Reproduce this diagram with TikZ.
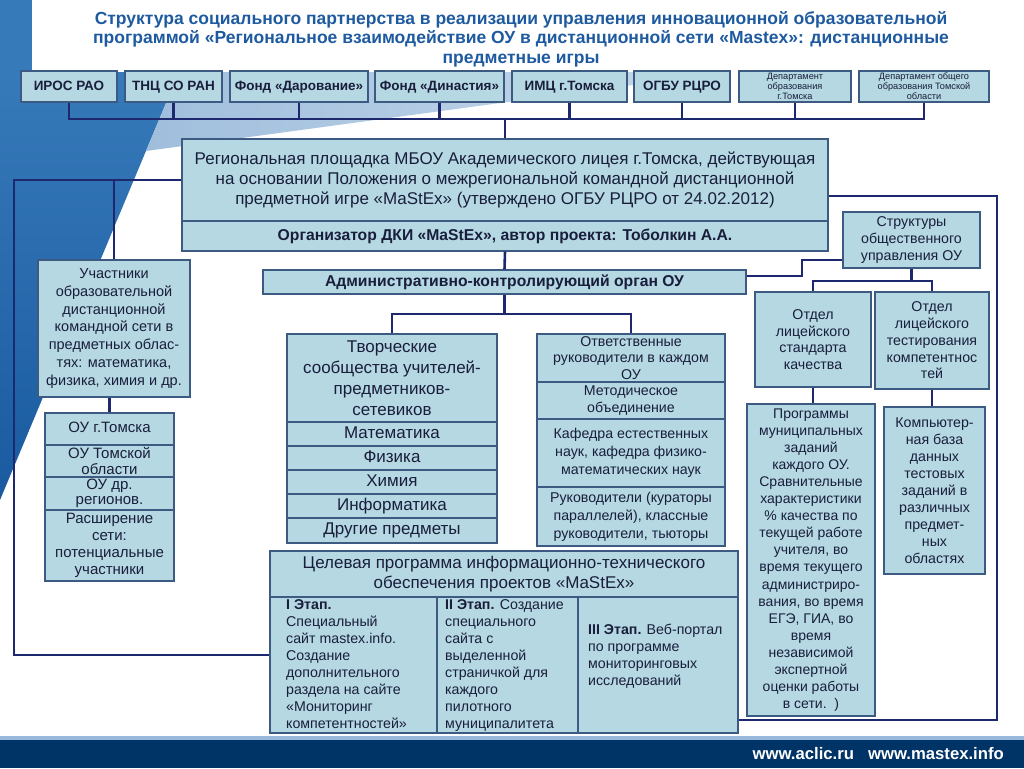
\documentclass[tikz,border=0pt]{standalone}
\usepackage{fontspec}
\setmainfont{Liberation Sans}
\definecolor{boxfill}{RGB}{181,216,226}
\definecolor{boxline}{RGB}{60,90,130}
\definecolor{connc}{RGB}{30,40,110}
\definecolor{txt}{RGB}{25,30,60}
\definecolor{titlec}{RGB}{30,90,160}
\definecolor{blueA}{RGB}{55,122,185}
\definecolor{blueB}{RGB}{25,90,160}
\definecolor{lightw}{RGB}{160,190,220}
\definecolor{lightx}{RGB}{200,218,236}
\definecolor{navy}{RGB}{0,51,102}
\definecolor{navyl}{RGB}{150,185,220}
\tikzset{
  box/.style={draw=boxline, fill=boxfill, line width=1.1pt, inner sep=1pt, align=center, text=txt,
    font=\fontsize{14.2}{17}\selectfont},
  topbox/.style={box, font=\bfseries\fontsize{13.5}{16}\selectfont, text height=10pt, text depth=3pt},
  depbox/.style={box, font=\fontsize{9.2}{10}\selectfont},
  rowbox/.style={box, minimum width=210pt, minimum height=24pt, font=\fontsize{17}{19}\selectfont,
    text height=12.5pt, text depth=4pt},
  conn/.style={draw=connc, line width=2.6pt},
  colbox/.style={box, align=left},
  coltext/.style={align=left, text=txt, inner sep=0pt, font=\fontsize{14.2}{17.1}\selectfont},
}
\begin{document}
\begin{tikzpicture}[x=1pt,y=-1pt]
\useasboundingbox (0,0) rectangle (1024,768);
\fill[white] (0,0) rectangle (1024,768);
% background decoration
\fill[blueA] (0,0) rectangle (32,72);
\shade[top color=blueA, bottom color=blueB] (0,72) -- (179,72) -- (0,500) -- cycle;
\shade[left color=lightw, right color=lightx] (179,72) -- (729,72) -- (146,151) -- cycle;
% bottom bar
\fill[navyl] (0,736) rectangle (1024,740);
\fill[navy] (0,740) rectangle (1024,768);
\node[anchor=east, text=white, font=\bfseries\fontsize{16.7}{18}\selectfont, inner sep=0pt] (web) at (1004,754) {www.aclic.ru\hspace{14pt}www.mastex.info};
% title
\node[align=center, text=titlec, font=\bfseries\fontsize{17.5}{19.5}\selectfont, inner sep=0pt] (ttl) at (521,39)
 {Структура социального партнерства в реализации управления инновационной образовательной\\
  программой «Региональное взаимодействие ОУ в дистанционной сети «Mastex»: дистанционные\\
  предметные игры};
% top row
\node[topbox, minimum width=96pt, minimum height=31pt] (iros) at (69,86.5) {ИРОС РАО};
\node[topbox, minimum width=97pt, minimum height=31pt] (tnc) at (173.5,86.5) {ТНЦ СО РАН};
\node[topbox, minimum width=138pt, minimum height=31pt] (dar) at (299,86.5) {Фонд «Дарование»};
\node[topbox, minimum width=129pt, minimum height=31pt] (din) at (439.5,86.5) {Фонд «Династия»};
\node[topbox, minimum width=115pt, minimum height=31pt] (imc) at (569.5,86.5) {ИМЦ г.Томска};
\node[topbox, minimum width=96pt, minimum height=31pt] (ogbu) at (682,86.5) {ОГБУ РЦРО};
\node[depbox, minimum width=112pt, minimum height=31pt] (dep1) at (795,86.5) {Департамент\\образования\\г.Томска};
\node[depbox, minimum width=130pt, minimum height=31pt] (dep2) at (924,86.5) {Департамент общего\\образования Томской\\области};
% main box
\node[box, minimum width=646pt, minimum height=82pt, font=\fontsize{17}{20}\selectfont] (main) at (505,180)
 {Региональная площадка МБОУ Академического лицея г.Томска, действующая\\
  на основании Положения о межрегиональной командной дистанционной\\
  предметной игре «MaStEx» (утверждено ОГБУ РЦРО от 24.02.2012)};
\node[box, minimum width=646pt, minimum height=30pt, font=\bfseries\fontsize{15.7}{17}\selectfont,
  text height=11.5pt, text depth=3.5pt] (org) at (505,236)
 {Организатор ДКИ «MaStEx», автор проекта: Тоболкин А.А.};
\node[box, minimum width=483pt, minimum height=24pt, font=\bfseries\fontsize{15.7}{17}\selectfont,
  text height=11.5pt, text depth=3.5pt] (admin) at (504.5,282)
 {Административно-контролирующий орган ОУ};
% right column
\node[box, minimum width=137pt, minimum height=56pt] (str) at (911.5,240) {Структуры\\общественного\\управления ОУ};
\node[box, minimum width=116pt, minimum height=95pt, font=\fontsize{14.2}{16.7}\selectfont] (od1) at (813,339.5) {Отдел\\лицейского\\стандарта\\качества};
\node[box, minimum width=114pt, minimum height=97pt, font=\fontsize{14.2}{16.7}\selectfont] (od2) at (932,340.5) {Отдел\\лицейского\\тестирования\\компетентнос\\тей};
\node[box, minimum width=128pt, minimum height=312pt, font=\fontsize{14}{17.1}\selectfont] (prog) at (811,560)
 {Программы\\муниципальных\\заданий\\каждого ОУ.\\Сравнительные\\характеристики\\\% качества по\\текущей работе\\учителя, во\\время текущего\\администриро-\\вания, во время\\ЕГЭ, ГИА, во\\время\\независимой\\экспертной\\оценки работы\\в сети.\ \ )};
\node[box, minimum width=101pt, minimum height=167pt, font=\fontsize{14.2}{17}\selectfont] (comp) at (934.5,490.5)
 {Компьютер-\\ная база\\данных\\тестовых\\заданий в\\различных\\предмет-\\ных\\областях};
% left column
\node[box, minimum width=152pt, minimum height=137pt, font=\fontsize{14.5}{17.7}\selectfont] (uch) at (114,328.5)
 {Участники\\образовательной\\дистанционной\\командной сети в\\предметных облас-\\тях: математика,\\физика, химия и др.};
\node[box, minimum width=129pt, minimum height=32pt, font=\fontsize{15}{16}\selectfont,
  text height=11pt, text depth=3.5pt] (ou1) at (109.5,429) {ОУ г.Томска};
\node[box, minimum width=129pt, minimum height=32pt, font=\fontsize{15}{15.5}\selectfont] (ou2) at (109.5,461) {ОУ Томской\\области};
\node[box, minimum width=129pt, minimum height=33pt, font=\fontsize{15}{15.5}\selectfont] (ou3) at (109.5,493.5) {ОУ др.\\регионов.};
\node[box, minimum width=129pt, minimum height=71pt, font=\fontsize{15}{17}\selectfont] (ou4) at (109.5,545.5) {Расширение\\сети:\\потенциальные\\участники};
% creative communities
\node[box, minimum width=210pt, minimum height=88pt, font=\fontsize{17}{21}\selectfont] (tv) at (392,378)
 {Творческие\\сообщества учителей-\\предметников-\\сетевиков};
\node[rowbox] (tv1) at (392,434) {Математика};
\node[rowbox] (tv2) at (392,458) {Физика};
\node[rowbox] (tv3) at (392,482) {Химия};
\node[rowbox] (tv4) at (392,506) {Информатика};
\node[rowbox, minimum height=25pt] (tv5) at (392,530.5) {Другие предметы};
% responsible
\node[box, minimum width=188pt, minimum height=48pt, font=\fontsize{14.2}{16.5}\selectfont] (ot1) at (631,358) {Ответственные\\руководители в каждом\\ОУ};
\node[box, minimum width=188pt, minimum height=37pt, font=\fontsize{14.2}{16.5}\selectfont] (ot2) at (631,400.5) {Методическое\\объединение};
\node[box, minimum width=188pt, minimum height=68pt, font=\fontsize{14.2}{18}\selectfont] (ot3) at (631,453) {Кафедра естественных\\наук, кафедра физико-\\математических наук};
\node[box, minimum width=188pt, minimum height=59pt, font=\fontsize{14.2}{18}\selectfont] (ot4) at (631,516.5) {Руководители (кураторы\\параллелей), классные\\руководители, тьюторы};
% target programme
\node[box, minimum width=468pt, minimum height=46pt, font=\fontsize{17}{20}\selectfont] (tsel) at (504,574)
 {Целевая программа информационно-технического\\обеспечения проектов «MaStEx»};
\node[colbox, minimum width=167pt, minimum height=136pt] (c1) at (353.5,665) {};
\node[colbox, minimum width=141pt, minimum height=136pt] (c2) at (507.5,665) {};
\node[colbox, minimum width=160pt, minimum height=136pt] (c3) at (658,665) {};
\node[coltext, anchor=north west] (c1t) at (286,599)
 {\textbf{I Этап.}\\Специальный\\сайт mastex.info.\\Создание\\дополнительного\\раздела на сайте\\«Мониторинг\\компетентностей»};
\node[coltext, anchor=north west] (c2t) at (445,599)
 {\textbf{II Этап.} Создание\\специального\\сайта с\\выделенной\\страничкой для\\каждого\\пилотного\\муниципалитета};
\node[coltext, anchor=west] (c3t) at (588,656)
 {\textbf{III Этап.} Веб-портал\\по программе\\мониторинговых\\исследований};
% connectors
\coordinate (bus) at (505,119);
\draw[conn] (iros.south) |- (dep2.south |- bus) -- (dep2.south);
\foreach \n in {tnc,dar,din,imc,ogbu,dep1} \draw[conn] (\n.south) -- (\n.south |- bus);
\draw[conn] (bus) -- (main.north);
\coordinate (lb) at (14,655);
\draw[conn] (main.west) -| (lb) -- (lb -| c1.west);
\draw[conn] (uch.north) -- (uch.north |- main.west);
\draw[conn] (ou1.north) -- (ou1.north |- uch.south);
\coordinate (rb) at (997,720);
\draw[conn] (main.east |- 0,196) -| (rb) -- (rb -| c3.east);
\draw[conn] (org.south) -- (admin.north);
\coordinate (ab) at (504.5,314);
\draw[conn] (admin.south) -- (ab);
\draw[conn] (tv.north) |- (ab) -| (ot1.north);
\coordinate (as) at (802,276);
\draw[conn] (admin.east |- as) -- (as) |- (str.west |- 0,260);
\coordinate (sb) at (911.5,281);
\draw[conn] (str.south) -- (sb);
\draw[conn] (od1.north) |- (sb) -| (od2.north);
\draw[conn] (od1.south) -- (od1.south |- prog.north);
\draw[conn] (od2.south) -- (od2.south |- comp.north);
\end{tikzpicture}
\end{document}
